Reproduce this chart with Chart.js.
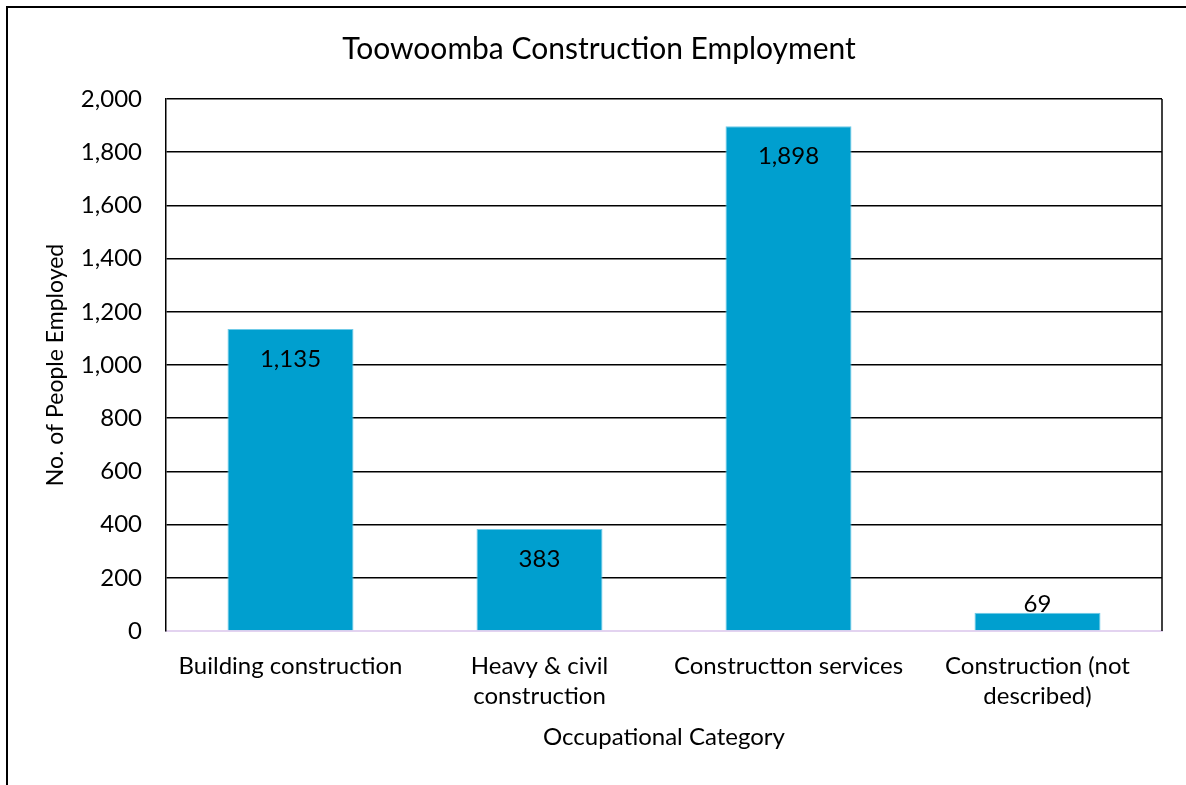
<!DOCTYPE html>
<html>
<head>
<meta charset="utf-8">
<title>Toowoomba Construction Employment</title>
<script src="https://cdn.jsdelivr.net/npm/chart.js@4"></script>
<style>
  html, body { margin: 0; padding: 0; background: #fff; overflow: hidden; }
  #frame {
    position: absolute; left: 6px; top: 6px; width: 1250px; height: 850px;
    border: 2px solid #000; box-sizing: border-box;
  }
  #wrap { position: absolute; left: 0; top: 0; width: 1186px; height: 785px; }
  #title {
    position: absolute; left: 0; top: 29px; width: 1198px; text-align: center;
    font: 30px Lato, "Open Sans", sans-serif; color: #000; line-height: 36px;
  }
</style>
</head>
<body>
<div id="frame"></div>
<div id="wrap"><canvas id="empChart"></canvas></div>
<div id="title">Toowoomba Construction Employment</div>
<script>
const categories = [
  "Building construction",
  ["Heavy & civil", "construction"],
  "Constructton services",
  ["Construction (not", "described)"]
];
const employed = [1135, 383, 1898, 69];
const yTicks = [0, 200, 400, 600, 800, 1000, 1200, 1400, 1600, 1800, 2000];

const fontFamily = "Lato, 'Open Sans', sans-serif";
const ctx = document.getElementById("empChart").getContext("2d");

// value labels at the inside end of each bar, lifted above short bars
const barLabels = {
  id: "barLabels",
  afterDatasetsDraw(chart) {
    const c = chart.ctx;
    const meta = chart.getDatasetMeta(0);
    c.save();
    c.font = "24px " + fontFamily;
    c.fillStyle = "#000";
    c.textAlign = "center";
    c.textBaseline = "middle";
    meta.data.forEach((bar, i) => {
      const h = bar.base - bar.y;
      const y = h < 40 ? bar.y - 8 : bar.y + 30;
      c.fillText(employed[i].toLocaleString("en-US"), bar.x, y);
    });
    c.restore();
  }
};

// right edge of the plot box
const plotFrame = {
  id: "plotFrame",
  beforeDatasetsDraw(chart) {
    const a = chart.chartArea;
    const c = chart.ctx;
    c.save();
    c.strokeStyle = "#000";
    c.lineWidth = 1.5;
    c.beginPath();
    c.moveTo(a.right, a.top);
    c.lineTo(a.right, a.bottom);
    c.stroke();
    c.restore();
  }
};

new Chart(ctx, {
  type: "bar",
  data: {
    labels: categories,
    datasets: [{
      data: employed,
      backgroundColor: "#009FCF",
      borderColor: "#6FCBE8",
      borderWidth: 1,
      borderSkipped: "bottom",
      categoryPercentage: 1,
      barPercentage: 0.506
    }]
  },
  options: {
    responsive: true,
    maintainAspectRatio: false,
    animation: false,
    layout: { padding: { top: 99, right: 24, bottom: 0, left: 0 } },
    plugins: {
      legend: { display: false },
      tooltip: { enabled: false },
      title: { display: false }
    },
    scales: {
      x: {
        grid: { display: false },
        border: { display: true, color: "#E3D3F0", width: 2 },
        ticks: {
          color: "#000",
          font: { family: fontFamily, size: 24, lineHeight: 1.25 },
          maxRotation: 0,
          autoSkip: false,
          padding: 12
        },
        title: {
          display: true,
          text: "Occupational Category",
          color: "#000",
          font: { family: fontFamily, size: 24 },
          padding: { top: 0, bottom: 33 }
        },
        afterFit: scale => { scale.height = 154; }
      },
      y: {
        min: 0,
        max: 2000,
        afterBuildTicks: scale => { scale.ticks = yTicks.map(v => ({ value: v })); },
        grid: {
          color: c => (c.tick && c.tick.value === 0 ? "rgba(0,0,0,0)" : "#000"),
          lineWidth: 1.5,
          drawTicks: false
        },
        border: { display: true, color: "#000", width: 1.5 },
        ticks: {
          color: "#000",
          font: { family: fontFamily, size: 24 },
          padding: 24,
          callback: v => v.toLocaleString("en-US")
        },
        title: {
          display: true,
          text: "No. of People Employed",
          color: "#000",
          font: { family: fontFamily, size: 23 },
          padding: { top: 42, bottom: 0 }
        },
        afterFit: scale => { scale.width = 166; }
      }
    }
  },
  plugins: [barLabels, plotFrame]
});
</script>
</body>
</html>
